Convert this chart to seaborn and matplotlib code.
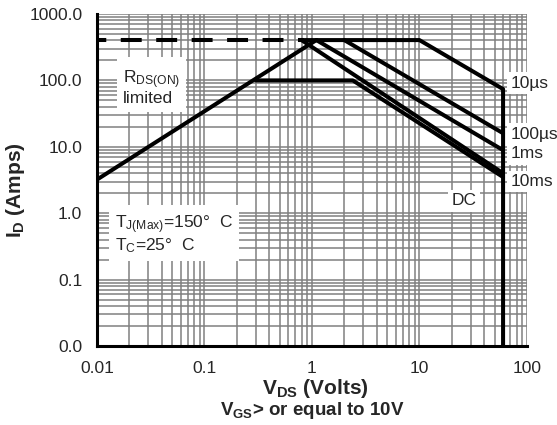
import matplotlib
matplotlib.use("Agg")
import matplotlib.pyplot as plt
from matplotlib.ticker import FixedLocator, LogLocator, FuncFormatter, NullFormatter
import seaborn as sns

# safe operating area
rds_v = [0.01, 1.1]
rds_i = [3.2, 405]

limit_v = [0.01, 0.85]
limit_i = [405, 405]

curve_names = ["10\u00b5s", "100\u00b5s", "1ms", "10ms", "DC"]
curve_v = [
    [0.83, 10, 60, 60],
    [2.0, 60],
    [1.1, 60],
    [0.8, 60],
    [0.3, 2.4, 60],
]
curve_i = [
    [405, 405, 74, 0.01],
    [405, 16],
    [405, 8.9],
    [405, 4.0],
    [100, 100, 3.5],
]

x_ticks = [0.01, 0.1, 1, 10, 100]
y_ticks = [0.01, 0.1, 1, 10, 100, 1000]

# where the curve names sit (data coords)
label_pos = {
    "10\u00b5s": (70, 90),
    "100\u00b5s": (70, 15.5),
    "1ms": (70, 7.8),
    "10ms": (70, 3.0),
    "DC": (20, 1.55),
}

sns.set_style("white")
plt.rcParams["font.family"] = ["Liberation Sans", "DejaVu Sans"]
plt.rcParams["mathtext.fontset"] = "custom"
plt.rcParams["mathtext.rm"] = "Liberation Sans"
plt.rcParams["mathtext.it"] = "Liberation Sans:italic"
plt.rcParams["mathtext.bf"] = "Liberation Sans:bold"

fig, ax = plt.subplots(figsize=(5.57, 4.25), dpi=100)
fig.subplots_adjust(left=0.174, right=0.946, bottom=0.186, top=0.967)
ax.set_xscale("log")
ax.set_yscale("log")

lw = 2.9
sns.lineplot(x=limit_v, y=limit_i, ax=ax, color="black", lw=lw,
             sort=False, estimator=None, linestyle=(2.9, (5.2, 3.6)))
sns.lineplot(x=rds_v, y=rds_i, ax=ax, color="black", lw=lw,
             sort=False, estimator=None)
for v, i in zip(curve_v, curve_i):
    sns.lineplot(x=v, y=i, ax=ax, color="black", lw=lw,
                 sort=False, estimator=None)

ax.set_xlim(0.01, 100)
ax.set_ylim(0.01, 1000)

ax.xaxis.set_major_locator(FixedLocator(x_ticks))
ax.yaxis.set_major_locator(FixedLocator(y_ticks))
ax.xaxis.set_minor_locator(LogLocator(base=10, subs=range(2, 10)))
ax.yaxis.set_minor_locator(LogLocator(base=10, subs=range(2, 10)))
ax.xaxis.set_major_formatter(FuncFormatter(lambda val, pos: f"{val:g}"))
ax.yaxis.set_major_formatter(FuncFormatter(lambda val, pos: f"{val:.1f}"))
ax.xaxis.set_minor_formatter(NullFormatter())
ax.yaxis.set_minor_formatter(NullFormatter())

ax.grid(True, which="both", color="#808080", lw=1.1)
ax.set_axisbelow(True)
ax.tick_params(which="both", length=0, labelsize=12.5)
ax.tick_params(axis="x", pad=11)
ax.tick_params(axis="y", pad=10.5)

sns.despine(ax=ax)
for side in ["left", "bottom"]:
    ax.spines[side].set_color("black")
    ax.spines[side].set_linewidth(2.2)

fs = 12.5
box = dict(boxstyle="square,pad=0.2", fc="white", ec="none")
for name in curve_names:
    x, y = label_pos[name]
    ax.text(x, y, name, ha="left", va="center", fontsize=fs, bbox=box)

ax.text(0.0175, 80, "R$_{\\mathrm{DS(ON)}}$\nlimited", ha="left", va="center",
        fontsize=fs, linespacing=1.0,
        bbox=dict(boxstyle="square,pad=0.35", fc="white", ec="none"))
ax.text(0.0147, 0.48, "T$_{\\mathrm{J(Max)}}$=150\u00b0  C\nT$_{\\mathrm{C}}$=25\u00b0  C",
        ha="left", va="center", fontsize=fs, linespacing=1.0,
        bbox=dict(boxstyle="square,pad=0.35", fc="white", ec="none"))

ax.set_xlabel("V$_{\\mathbf{DS}}$ (Volts)", fontsize=15, fontweight="bold")
ax.xaxis.set_label_coords(0.507, -0.095)
ax.xaxis.label.set_va("top")
ax.set_ylabel("I$_{\\mathbf{D}}$ (Amps)", fontsize=15, fontweight="bold")
ax.yaxis.set_label_coords(-0.163, 0.47)
ax.text(0.5, -0.163, "V$_{\\mathbf{GS}}$> or equal to 10V", transform=ax.transAxes,
        ha="center", va="top", fontsize=13.5, fontweight="bold")

fig.savefig("out.png", dpi=100)
